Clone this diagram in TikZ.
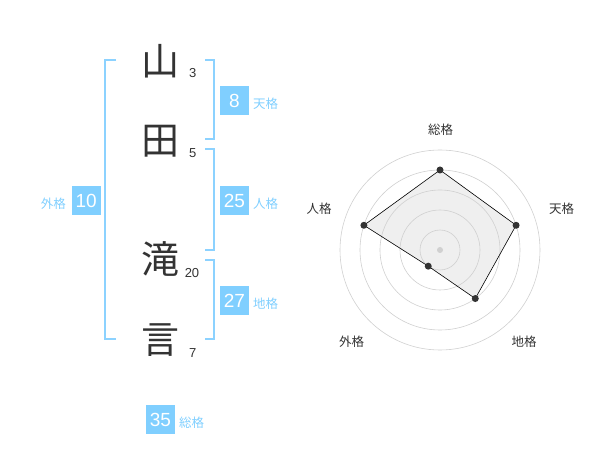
\documentclass[tikz,border=0pt]{standalone}
\usepackage{fontspec}
\usetikzlibrary{calc}
\setmainfont{Liberation Sans}
\newfontfamily\jp{Noto Sans CJK JP}
\definecolor{kblue}{HTML}{80CFFF}
\definecolor{kline}{HTML}{8CD2FF}
\definecolor{ktext}{HTML}{333333}
\definecolor{ringc}{HTML}{D0D0D0}
\definecolor{polyfill}{HTML}{EFEFEF}
\begin{document}
\begin{tikzpicture}[x=1pt,y=-1pt,
  kanji/.style={font=\jp\fontsize{38}{38}\selectfont, text=ktext, inner sep=0pt},
  strokes/.style={font=\fontsize{13}{13}\selectfont, text=ktext, inner sep=0pt},
  valbox/.style={fill=kblue, text=white, minimum width=29pt, minimum height=29pt, inner sep=0pt, font=\fontsize{19}{19}\selectfont},
  kaku/.style={text=kblue, font=\jp\fontsize{12.5}{12.5}\selectfont, inner sep=0pt},
  bracketline/.style={draw=kline, line width=2pt},
  ring/.style={draw=ringc, line width=0.6pt},
  axislabel/.style={font=\jp\fontsize{12.5}{12.5}\selectfont, text=ktext, inner sep=0pt},
  vdot/.style={circle, fill=ktext, inner sep=0pt, minimum size=7pt}
]
\useasboundingbox (0,0) rectangle (600,470);
% characters
\node[kanji] (c1) at (160,61) {山};
\node[kanji] (c2) at (160,141) {田};
\node[kanji] (c3) at (160,259) {滝};
\node[kanji] (c4) at (160,340) {言};
\node[strokes] (s1) at (192.7,72.7) {3};
\node[strokes] (s2) at (192.7,152.7) {5};
\node[strokes] (s3) at (192,272.7) {20};
\node[strokes] (s4) at (192.7,352.7) {7};
% brackets
\draw[bracketline] (116,60) -- (105,60) -- (105,339.5) -- (116,339.5);
\draw[bracketline] (205,60) -- (214.3,60) -- (214.3,139.5) -- (205,139.5);
\draw[bracketline] (205,149.5) -- (214.3,149.5) -- (214.3,250) -- (205,250);
\draw[bracketline] (205,260) -- (214.3,260) -- (214.3,339.5) -- (205,339.5);
% values
\node[valbox] (ten) at (234.5,100.5) {8};
\node[kaku, anchor=west] (tenl) at (253,104) {天格};
\node[valbox] (jin) at (234.5,200.5) {25};
\node[kaku, anchor=west] (jinl) at (253,204) {人格};
\node[valbox] (chi) at (234.5,300.5) {27};
\node[kaku, anchor=west] (chil) at (253,304) {地格};
\node[valbox] (gai) at (86.2,200.5) {10};
\node[kaku, anchor=east] (gail) at (66,204) {外格};
\node[valbox] (sou) at (160.5,419.5) {35};
\node[kaku, anchor=west] (soul) at (179,422.7) {総格};
% radar
\coordinate (O) at (440,250);
\coordinate (q1) at ($(O)+(-90:80)$);
\coordinate (q2) at ($(O)+(-18:80)$);
\coordinate (q3) at ($(O)+(54:60)$);
\coordinate (q4) at ($(O)+(126:20)$);
\coordinate (q5) at ($(O)+(198:80)$);
\fill[polyfill] (q1) -- (q2) -- (q3) -- (q4) -- (q5) -- cycle;
\foreach \r in {20,40,60,80,100} \draw[ring] (O) circle[radius=\r];
\draw[black, line width=0.6pt] (q1) -- (q2) -- (q3) -- (q4) -- (q5) -- cycle;
\node[circle, fill=ringc, inner sep=0pt, minimum size=6pt] (ctr) at (O) {};
\node[vdot] (p1) at (q1) {};
\node[vdot] (p2) at (q2) {};
\node[vdot] (p3) at (q3) {};
\node[vdot] (p4) at (q4) {};
\node[vdot] (p5) at (q5) {};
\node[axislabel] (a1) at (440.5,130) {総格};
\node[axislabel] (a2) at (561.7,208.3) {天格};
\node[axislabel] (a3) at (524,341.7) {地格};
\node[axislabel] (a4) at (351.7,341.7) {外格};
\node[axislabel] (a5) at (319,208.3) {人格};
\end{tikzpicture}
\end{document}
